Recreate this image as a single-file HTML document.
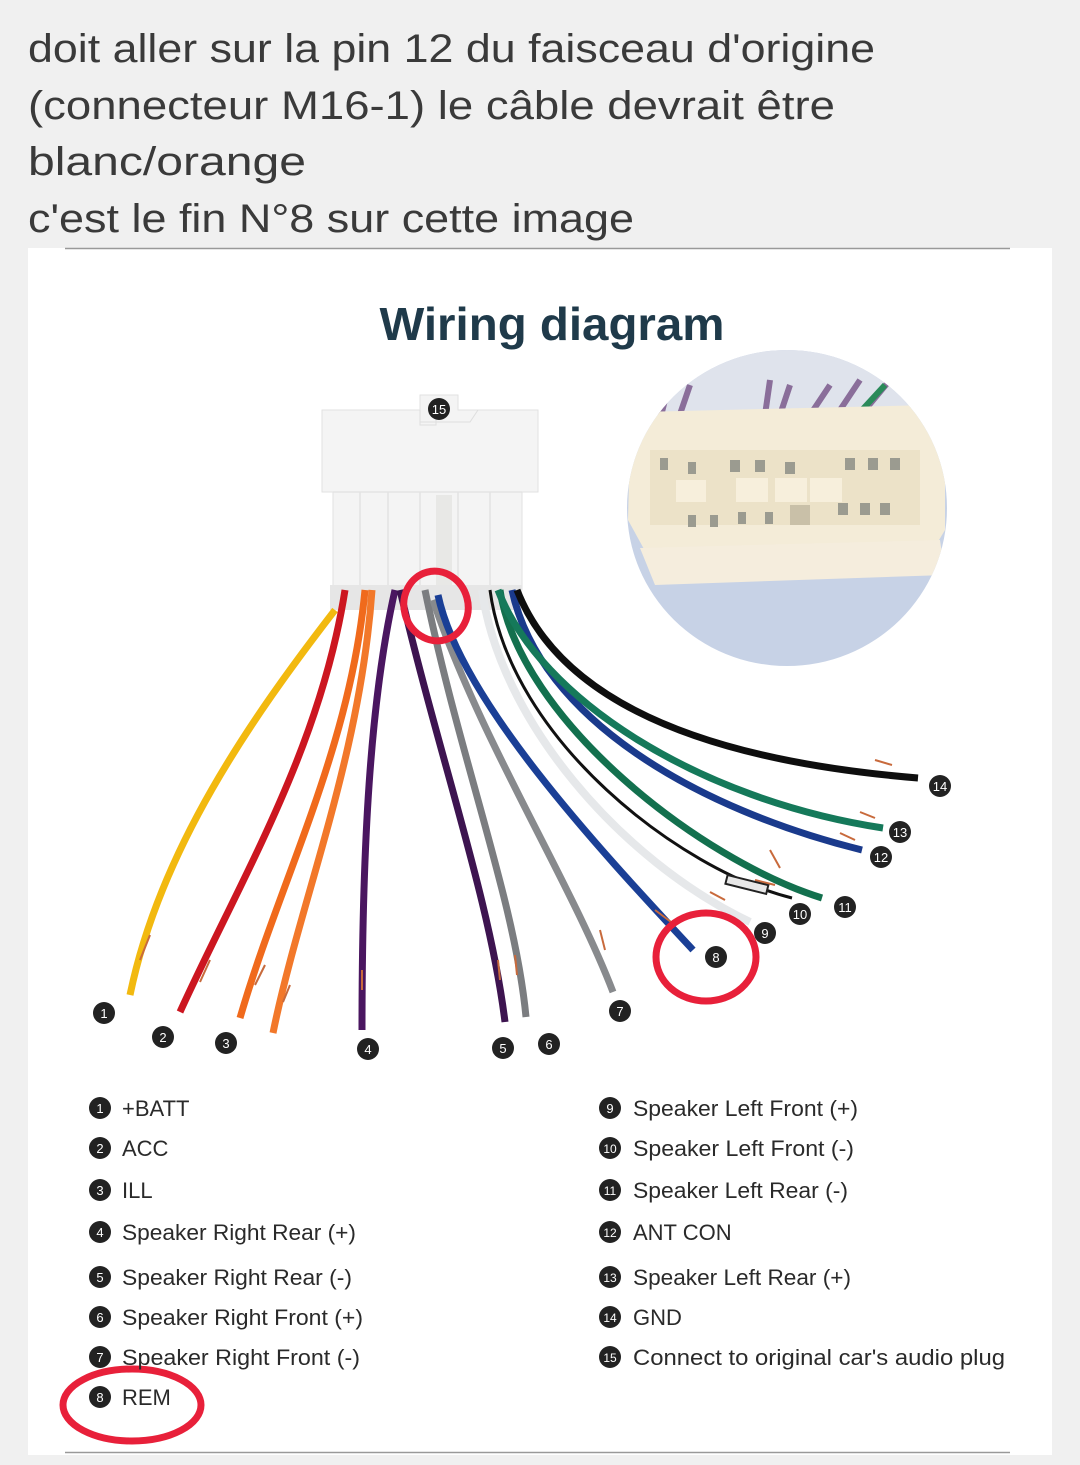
<!DOCTYPE html>
<html><head><meta charset="utf-8"><style>
html,body{margin:0;padding:0;background:#f0f0f0;}
svg{display:block;}
</style></head><body>
<svg width="1080" height="1465" viewBox="0 0 1080 1465" xmlns="http://www.w3.org/2000/svg" font-family="Liberation Sans, sans-serif">
<rect width="1080" height="1465" fill="#f0f0f0"/>
<g font-size="40" fill="#3a3a3a">
<text x="28" y="62" textLength="847" lengthAdjust="spacingAndGlyphs">doit aller sur la pin 12 du faisceau d'origine</text>
<text x="28" y="119" textLength="807" lengthAdjust="spacingAndGlyphs">(connecteur M16-1) le câble devrait être</text>
<text x="28" y="175" textLength="278" lengthAdjust="spacingAndGlyphs">blanc/orange</text>
<text x="28" y="232" textLength="606" lengthAdjust="spacingAndGlyphs">c'est le fin N°8 sur cette image</text>
</g>
<rect x="28" y="248" width="1024" height="1207" fill="#fff"/>
<line x1="65" y1="248.5" x2="1010" y2="248.5" stroke="#999" stroke-width="1.5"/>
<line x1="65" y1="1452.5" x2="1010" y2="1452.5" stroke="#999" stroke-width="1.5"/>
<text x="552" y="340" text-anchor="middle" font-size="46" font-weight="bold" fill="#1f3a4a" textLength="345" lengthAdjust="spacingAndGlyphs">Wiring diagram</text>

<defs><clipPath id="cp"><ellipse cx="787" cy="508" rx="160" ry="158"/></clipPath></defs>
<ellipse cx="787" cy="508" rx="160" ry="158" fill="#c7d2e6"/>
<g clip-path="url(#cp)">
<rect x="620" y="340" width="340" height="100" fill="#dfe3ec"/>
<path d="M660 420 L670 380 M678 420 L690 385 M765 415 L770 380 M780 415 L790 385 M810 415 L830 385 M840 410 L860 380 M865 410 L890 380" stroke="#8a6e9a" stroke-width="6"/>
<path d="M862 410 L885 385" stroke="#2a8a5a" stroke-width="6"/>
<path d="M655 410 L668 390" stroke="#e07a30" stroke-width="5"/>
<path d="M640 412 L930 405 L945 440 L945 530 L930 555 L650 560 L628 520 L630 440 Z" fill="#f4ecd8"/>
<rect x="650" y="450" width="270" height="75" fill="#ece2c8"/>
<rect x="676" y="480" width="30" height="22" fill="#f7efdc"/>
<rect x="736" y="478" width="32" height="24" fill="#f7efdc"/>
<rect x="775" y="478" width="32" height="24" fill="#f7efdc"/>
<rect x="810" y="478" width="32" height="24" fill="#f7efdc"/>
<rect x="790" y="505" width="20" height="20" fill="#c9c0a8"/>
<path d="M640 548 L940 540 L945 575 L655 585 Z" fill="#f5eddd"/>
<g fill="#9b9b90">
<rect x="660" y="458" width="8" height="12"/><rect x="688" y="462" width="8" height="12"/><rect x="730" y="460" width="10" height="12"/><rect x="755" y="460" width="10" height="12"/><rect x="785" y="462" width="10" height="12"/><rect x="845" y="458" width="10" height="12"/><rect x="868" y="458" width="10" height="12"/><rect x="890" y="458" width="10" height="12"/>
<rect x="688" y="515" width="8" height="12"/><rect x="710" y="515" width="8" height="12"/><rect x="738" y="512" width="8" height="12"/><rect x="765" y="512" width="8" height="12"/><rect x="838" y="503" width="10" height="12"/><rect x="860" y="503" width="10" height="12"/><rect x="880" y="503" width="10" height="12"/>
</g>
</g>

<path d="M322 410 L420 410 L420 395 L458 395 L458 410 L538 410 L538 492 L522 492 L522 590 L333 590 L333 492 L322 492 Z" fill="#f4f4f4" stroke="#e2e2e2"/>
<path d="M420 410 L420 425 L436 425 L436 410 M420 422 L470 422 L478 410" fill="none" stroke="#dedede"/>
<g stroke="#e3e3e3" stroke-width="1.5"><line x1="360" y1="492" x2="360" y2="590"/><line x1="388" y1="492" x2="388" y2="590"/><line x1="420" y1="492" x2="420" y2="590"/><line x1="458" y1="492" x2="458" y2="590"/><line x1="490" y1="492" x2="490" y2="590"/><line x1="333" y1="492" x2="522" y2="492"/></g>
<rect x="436" y="495" width="16" height="90" fill="#e8e8e6"/>
<rect x="330" y="585" width="192" height="25" fill="#e6e6e6"/>
<circle cx="439" cy="409" r="11" fill="#222"/><text x="439" y="414" text-anchor="middle" font-size="13" fill="#fff">15</text>

<g fill="none" stroke-linecap="butt">
<path d="M335 610 C250 720 160 850 130 995" stroke="#f2b90f" stroke-width="7"/>
<path d="M345 590 C320 750 240 880 180 1012" stroke="#cc1620" stroke-width="7"/>
<path d="M365 590 C350 750 280 880 240 1018" stroke="#f06a1c" stroke-width="7"/>
<path d="M372 590 C360 760 300 900 273 1033" stroke="#f2782a" stroke-width="7"/>
<path d="M395 590 C370 700 362 850 362 1030" stroke="#4a1660" stroke-width="7"/>
<path d="M400 590 C440 760 490 900 505 1022" stroke="#3d1450" stroke-width="7"/>
<path d="M425 590 C460 760 515 900 526 1017" stroke="#7b7d80" stroke-width="7"/>
<path d="M433 600 C480 740 570 880 613 992" stroke="#888a8d" stroke-width="7"/>
<path d="M438 595 C460 700 600 850 693 950" stroke="#1a3f96" stroke-width="7"/>
<path d="M482 590 C500 720 620 860 750 922" stroke="#e6e8ea" stroke-width="8"/>
<path d="M490 590 C510 740 680 870 792 898" stroke="#111" stroke-width="3"/>
<path d="M500 590 C520 720 700 860 822 898" stroke="#13704e" stroke-width="7"/>
<path d="M512 590 C540 720 700 810 862 850" stroke="#1a3a8c" stroke-width="7"/>
<path d="M498 590 C540 700 700 800 883 828" stroke="#15795a" stroke-width="7"/>
<path d="M517 590 C560 700 700 760 918 778" stroke="#0e0e0e" stroke-width="7"/>
</g>
<g fill="none" stroke="#c86a3c" stroke-width="2">
<path d="M150 935 L140 960"/><path d="M210 960 L200 982"/><path d="M265 965 L255 985"/><path d="M290 985 L283 1002"/>
<path d="M362 970 L362 990"/><path d="M498 960 L500 980"/><path d="M515 955 L517 975"/><path d="M600 930 L605 950"/>
<path d="M655 910 L675 925"/><path d="M710 892 L725 900"/><path d="M755 880 L775 885"/><path d="M770 850 L780 868"/><path d="M840 833 L855 840"/><path d="M860 812 L875 818"/><path d="M875 760 L892 765"/>
</g>
<rect x="726" y="880" width="42" height="9" fill="#e8e8e8" stroke="#222" stroke-width="2" transform="rotate(14 747 884)"/>

<ellipse cx="436" cy="606" rx="32" ry="35" fill="none" stroke="#e8203a" stroke-width="7" transform="rotate(-15 436 606)"/>
<ellipse cx="706" cy="957" rx="50" ry="44" fill="none" stroke="#e8203a" stroke-width="7"/>
<ellipse cx="132" cy="1405" rx="69" ry="36" fill="none" stroke="#e8203a" stroke-width="7"/>

<g font-size="13" fill="#fff" text-anchor="middle">
<circle cx="104" cy="1013" r="11" fill="#222"/><text x="104" y="1018">1</text>
<circle cx="163" cy="1037" r="11" fill="#222"/><text x="163" y="1042">2</text>
<circle cx="226" cy="1043" r="11" fill="#222"/><text x="226" y="1048">3</text>
<circle cx="368" cy="1049" r="11" fill="#222"/><text x="368" y="1054">4</text>
<circle cx="503" cy="1048" r="11" fill="#222"/><text x="503" y="1053">5</text>
<circle cx="549" cy="1044" r="11" fill="#222"/><text x="549" y="1049">6</text>
<circle cx="620" cy="1011" r="11" fill="#222"/><text x="620" y="1016">7</text>
<circle cx="716" cy="957" r="11" fill="#222"/><text x="716" y="962">8</text>
<circle cx="765" cy="933" r="11" fill="#222"/><text x="765" y="938">9</text>
<circle cx="800" cy="914" r="11" fill="#222"/><text x="800" y="919">10</text>
<circle cx="845" cy="907" r="11" fill="#222"/><text x="845" y="912">11</text>
<circle cx="881" cy="857" r="11" fill="#222"/><text x="881" y="862">12</text>
<circle cx="900" cy="832" r="11" fill="#222"/><text x="900" y="837">13</text>
<circle cx="940" cy="786" r="11" fill="#222"/><text x="940" y="791">14</text>
</g>

<g font-size="22" fill="#2a2a2a">
<g><circle cx="100" cy="1108" r="11" fill="#222"/><text x="100" y="1113" font-size="13" fill="#fff" text-anchor="middle">1</text><text x="122" y="1116">+BATT</text></g>
<g><circle cx="100" cy="1148" r="11" fill="#222"/><text x="100" y="1153" font-size="13" fill="#fff" text-anchor="middle">2</text><text x="122" y="1156">ACC</text></g>
<g><circle cx="100" cy="1190" r="11" fill="#222"/><text x="100" y="1195" font-size="13" fill="#fff" text-anchor="middle">3</text><text x="122" y="1198">ILL</text></g>
<g><circle cx="100" cy="1232" r="11" fill="#222"/><text x="100" y="1237" font-size="13" fill="#fff" text-anchor="middle">4</text><text x="122" y="1240" textLength="234" lengthAdjust="spacingAndGlyphs">Speaker Right Rear (+)</text></g>
<g><circle cx="100" cy="1277" r="11" fill="#222"/><text x="100" y="1282" font-size="13" fill="#fff" text-anchor="middle">5</text><text x="122" y="1285" textLength="230" lengthAdjust="spacingAndGlyphs">Speaker Right Rear (-)</text></g>
<g><circle cx="100" cy="1317" r="11" fill="#222"/><text x="100" y="1322" font-size="13" fill="#fff" text-anchor="middle">6</text><text x="122" y="1325" textLength="241" lengthAdjust="spacingAndGlyphs">Speaker Right Front (+)</text></g>
<g><circle cx="100" cy="1357" r="11" fill="#222"/><text x="100" y="1362" font-size="13" fill="#fff" text-anchor="middle">7</text><text x="122" y="1365" textLength="238" lengthAdjust="spacingAndGlyphs">Speaker Right Front (-)</text></g>
<g><circle cx="100" cy="1397" r="11" fill="#222"/><text x="100" y="1402" font-size="13" fill="#fff" text-anchor="middle">8</text><text x="122" y="1405">REM</text></g>
<g><circle cx="610" cy="1108" r="11" fill="#222"/><text x="610" y="1113" font-size="13" fill="#fff" text-anchor="middle">9</text><text x="633" y="1116" textLength="225" lengthAdjust="spacingAndGlyphs">Speaker Left Front (+)</text></g>
<g><circle cx="610" cy="1148" r="11" fill="#222"/><text x="610" y="1153" font-size="12" fill="#fff" text-anchor="middle">10</text><text x="633" y="1156" textLength="221" lengthAdjust="spacingAndGlyphs">Speaker Left Front (-)</text></g>
<g><circle cx="610" cy="1190" r="11" fill="#222"/><text x="610" y="1195" font-size="12" fill="#fff" text-anchor="middle">11</text><text x="633" y="1198" textLength="215" lengthAdjust="spacingAndGlyphs">Speaker Left Rear (-)</text></g>
<g><circle cx="610" cy="1232" r="11" fill="#222"/><text x="610" y="1237" font-size="12" fill="#fff" text-anchor="middle">12</text><text x="633" y="1240">ANT CON</text></g>
<g><circle cx="610" cy="1277" r="11" fill="#222"/><text x="610" y="1282" font-size="12" fill="#fff" text-anchor="middle">13</text><text x="633" y="1285" textLength="218" lengthAdjust="spacingAndGlyphs">Speaker Left Rear (+)</text></g>
<g><circle cx="610" cy="1317" r="11" fill="#222"/><text x="610" y="1322" font-size="12" fill="#fff" text-anchor="middle">14</text><text x="633" y="1325">GND</text></g>
<g><circle cx="610" cy="1357" r="11" fill="#222"/><text x="610" y="1362" font-size="12" fill="#fff" text-anchor="middle">15</text><text x="633" y="1365" textLength="372" lengthAdjust="spacingAndGlyphs">Connect to original car's audio plug</text></g>
</g>
</svg>
</body></html>
